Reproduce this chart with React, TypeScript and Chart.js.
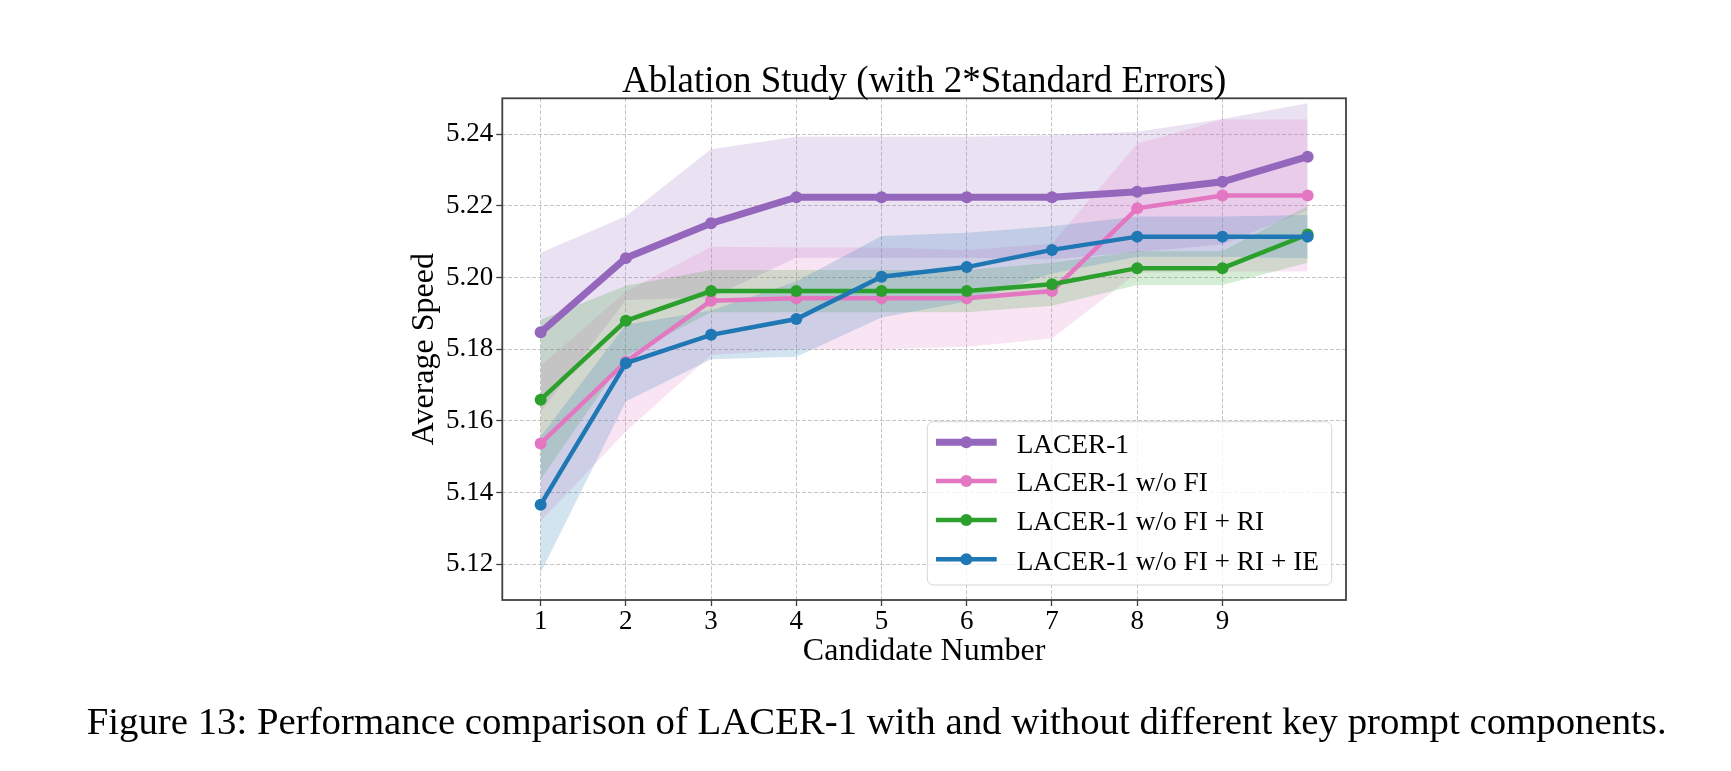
import { useEffect, useRef } from "react";
import { Chart, registerables } from "chart.js";

Chart.register(...registerables);

// ---------- data ----------
const CANDIDATES = [1, 2, 3, 4, 5, 6, 7, 8, 9, 10];
const X_TICKS = [1, 2, 3, 4, 5, 6, 7, 8, 9];
const Y_TICKS = [5.12, 5.14, 5.16, 5.18, 5.2, 5.22, 5.24];

const SERIES_NAMES = [
  "LACER-1",
  "LACER-1 w/o FI",
  "LACER-1 w/o FI + RI",
  "LACER-1 w/o FI + RI + IE",
];

const LACER = [5.1847, 5.2054, 5.2151, 5.2224, 5.2224, 5.2224, 5.2224, 5.2239, 5.2267, 5.2337];
const LACER_ERR = [0.0222, 0.0117, 0.0207, 0.0169, 0.0169, 0.0169, 0.0173, 0.0168, 0.0175, 0.0149];

const NO_FI = [5.1537, 5.1765, 5.1935, 5.1942, 5.1942, 5.1942, 5.1962, 5.2193, 5.2229, 5.2229];
const NO_FI_ERR = [0.0217, 0.0195, 0.0151, 0.0142, 0.0142, 0.0135, 0.0132, 0.018, 0.0212, 0.0212];

const NO_FI_RI = [5.1659, 5.1879, 5.1962, 5.1962, 5.1962, 5.1962, 5.1981, 5.2026, 5.2026, 5.212];
const NO_FI_RI_ERR = [0.0223, 0.0098, 0.0059, 0.0059, 0.0059, 0.0059, 0.006, 0.0047, 0.0047, 0.0079];

const NO_FI_RI_IE = [5.1366, 5.1761, 5.184, 5.1884, 5.2002, 5.2029, 5.2077, 5.2114, 5.2114, 5.2114];
const NO_FI_RI_IE_ERR = [0.019, 0.0107, 0.0068, 0.0105, 0.0114, 0.0096, 0.0066, 0.0056, 0.0056, 0.006];

const TITLE = "Ablation Study (with 2*Standard Errors)";
const X_LABEL = "Candidate Number";
const Y_LABEL = "Average Speed";
const CAPTION =
  "Figure 13: Performance comparison of LACER-1 with and without different key prompt components.";

// ---------- styles ----------
const FAMILY = '"Liberation Serif", "Times New Roman", Times, serif';
const COLORS = ["#9467bd", "#e377c2", "#2ca02c", "#1f77b4"];
const BAND_COLORS = [
  "rgba(148,103,189,0.2)",
  "rgba(227,119,194,0.2)",
  "rgba(44,160,44,0.2)",
  "rgba(31,119,180,0.2)",
];
const LINE_WIDTHS = [7, 4.5, 4.5, 4.5];

const MEANS = [LACER, NO_FI, NO_FI_RI, NO_FI_RI_IE];
const ERRS = [LACER_ERR, NO_FI_ERR, NO_FI_RI_ERR, NO_FI_RI_IE_ERR];

function buildDatasets() {
  const sets: any[] = [];
  MEANS.forEach((mean, s) => {
    sets.push({
      label: SERIES_NAMES[s],
      data: CANDIDATES.map((x, i) => ({ x, y: mean[i] })),
      borderColor: COLORS[s],
      backgroundColor: COLORS[s],
      borderWidth: LINE_WIDTHS[s],
      pointRadius: 6,
      pointBorderWidth: 0,
      pointBackgroundColor: COLORS[s],
      fill: false,
      tension: 0,
      order: 4 - s,
    });
  });
  MEANS.forEach((mean, s) => {
    sets.push({
      label: "band-upper-" + s,
      data: CANDIDATES.map((x, i) => ({ x, y: mean[i] + ERRS[s][i] })),
      borderColor: "transparent",
      backgroundColor: BAND_COLORS[s],
      borderWidth: 1,
      pointRadius: 0,
      fill: "+1",
      tension: 0,
      order: 20 - s,
    });
    sets.push({
      label: "band-lower-" + s,
      data: CANDIDATES.map((x, i) => ({ x, y: mean[i] - ERRS[s][i] })),
      borderColor: "transparent",
      backgroundColor: "transparent",
      borderWidth: 1,
      pointRadius: 0,
      fill: false,
      tension: 0,
      order: 20 - s,
    });
  });
  return sets;
}

const decor = {
  id: "decor",
  afterDraw(chart: any) {
    const { ctx, chartArea: a } = chart;
    const cx = (a.left + a.right) / 2;
    const cy = (a.top + a.bottom) / 2;
    ctx.save();
    // frame (all four spines)
    ctx.strokeStyle = "#404040";
    ctx.lineWidth = 1.8;
    ctx.strokeRect(a.left, a.top, a.right - a.left, a.bottom - a.top);

    ctx.fillStyle = "#000";
    ctx.textBaseline = "alphabetic";
    ctx.textAlign = "center";
    ctx.font = `37px ${FAMILY}`;
    ctx.fillText(TITLE, cx, a.top - 6);

    ctx.font = `32px ${FAMILY}`;
    ctx.fillText(X_LABEL, cx, a.bottom + 59.5);

    ctx.save();
    ctx.translate(433, cy);
    ctx.rotate(-Math.PI / 2);
    ctx.fillText(Y_LABEL, 0, 0);
    ctx.restore();

    // legend
    const bx = 927.3, by = 421.7, bw = 404.4, bh = 163.3, r = 6;
    ctx.beginPath();
    ctx.moveTo(bx + r, by);
    ctx.lineTo(bx + bw - r, by);
    ctx.arcTo(bx + bw, by, bx + bw, by + r, r);
    ctx.lineTo(bx + bw, by + bh - r);
    ctx.arcTo(bx + bw, by + bh, bx + bw - r, by + bh, r);
    ctx.lineTo(bx + r, by + bh);
    ctx.arcTo(bx, by + bh, bx, by + bh - r, r);
    ctx.lineTo(bx, by + r);
    ctx.arcTo(bx, by, bx + r, by, r);
    ctx.closePath();
    ctx.fillStyle = "rgba(255,255,255,0.8)";
    ctx.fill();
    ctx.strokeStyle = "#d6d6d6";
    ctx.lineWidth = 1;
    ctx.stroke();

    const rows = [442.3, 481, 520, 559.3];
    SERIES_NAMES.forEach((name, s) => {
      const y = rows[s];
      ctx.strokeStyle = COLORS[s];
      ctx.lineWidth = LINE_WIDTHS[s];
      ctx.lineCap = "butt";
      ctx.beginPath();
      ctx.moveTo(936, y);
      ctx.lineTo(996.7, y);
      ctx.stroke();
      ctx.fillStyle = COLORS[s];
      ctx.beginPath();
      ctx.arc(966.3, y, 6, 0, Math.PI * 2);
      ctx.fill();
      ctx.fillStyle = "#000";
      ctx.textAlign = "left";
      ctx.font = `27.3px ${FAMILY}`;
      ctx.fillText(name, 1016.7, y + 10.3);
    });

    // caption
    ctx.fillStyle = "#000";
    ctx.textAlign = "left";
    ctx.font = `38.8px ${FAMILY}`;
    ctx.fillText(CAPTION, 86.7, 734);
    ctx.restore();
  },
};

export default function App() {
  const ref = useRef<HTMLCanvasElement | null>(null);

  useEffect(() => {
    if (!ref.current) return;
    const gridColor = "rgba(176,176,176,0.75)";
    const tickFont = { family: FAMILY, size: 27 };
    const chart = new Chart(ref.current, {
      type: "line",
      data: { datasets: buildDatasets() },
      options: {
        animation: false,
        responsive: false,
        events: [],
        layout: { padding: { top: 98.3, right: 385, left: 0, bottom: 0 } },
        plugins: {
          legend: { display: false },
          title: { display: false },
          tooltip: { enabled: false },
        },
        scales: {
          x: {
            type: "linear",
            min: 0.55,
            max: 10.45,
            afterBuildTicks: (scale: any) => {
              scale.ticks = X_TICKS.map((v) => ({ value: v }));
            },
            afterFit: (scale: any) => {
              scale.height = 171;
            },
            ticks: {
              callback: (v: any) => String(v),
              font: tickFont,
              color: "#000",
              padding: 0,
              maxRotation: 0,
              autoSkip: false,
            },
            grid: {
              color: gridColor,
              lineWidth: 1,
              tickColor: "#404040",
              tickLength: 6,
              tickWidth: 1.3,
            },
            border: { display: false, dash: [4, 2] },
          },
          y: {
            type: "linear",
            min: 5.11,
            max: 5.25,
            afterBuildTicks: (scale: any) => {
              scale.ticks = Y_TICKS.map((v) => ({ value: v }));
            },
            afterFit: (scale: any) => {
              scale.width = 502.3;
            },
            ticks: {
              callback: (v: any) => Number(v).toFixed(2),
              font: tickFont,
              color: "#000",
              padding: 3,
              autoSkip: false,
            },
            grid: {
              color: gridColor,
              lineWidth: 1,
              tickColor: "#404040",
              tickLength: 6,
              tickWidth: 1.3,
            },
            border: { display: false, dash: [4, 2] },
          },
        },
      } as any,
      plugins: [decor],
    });
    return () => chart.destroy();
  }, []);

  return (
    <div style={{ position: "absolute", left: 0, top: 0, width: 1731, height: 771, background: "#fff" }}>
      <canvas ref={ref} width={1731} height={771} style={{ display: "block" }} />
    </div>
  );
}
